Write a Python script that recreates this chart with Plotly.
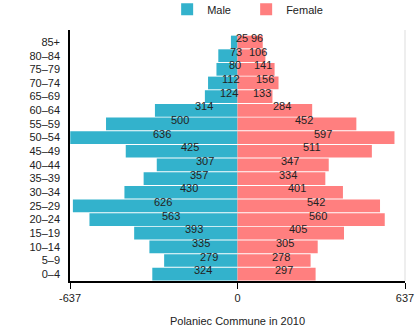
import plotly.graph_objects as go

age_groups = ["0–4", "5–9", "10–14", "15–19", "20–24", "25–29", "30–34", "35–39",
              "40–44", "45–49", "50–54", "55–59", "60–64", "65–69", "70–74",
              "75–79", "80–84", "85+"]
male = [324, 279, 335, 393, 563, 626, 430, 357, 307, 425, 636, 500, 314, 124, 112, 80, 73, 25]
female = [297, 278, 305, 405, 560, 542, 401, 334, 347, 511, 597, 452, 284, 133, 156, 141, 106, 96]
axis_max = 637
tick_vals = [-axis_max, 0, axis_max]
tick_text = ["-637", "0", "637"]

MALE_COLOR = "#33b2cc"
FEMALE_COLOR = "#ff7f7f"
FONT = "Liberation Sans, Arial, sans-serif"

fig = go.Figure()
fig.add_trace(go.Bar(
    y=age_groups, x=[-v for v in male], orientation="h", name="Male",
    marker=dict(color=MALE_COLOR, line=dict(width=0)), hoverinfo="skip"))
fig.add_trace(go.Bar(
    y=age_groups, x=female, orientation="h", name="Female",
    marker=dict(color=FEMALE_COLOR, line=dict(width=0)), hoverinfo="skip"))

# value labels near the middle of each bar
for g, m, f in zip(age_groups, male, female):
    fig.add_annotation(x=-m / 2, y=g, text=str(m), showarrow=False, xshift=8, yshift=4,
                       font=dict(family=FONT, size=11, color="#222"))
    fig.add_annotation(x=f / 2, y=g, text=str(f), showarrow=False, xshift=7, yshift=4,
                       font=dict(family=FONT, size=11, color="#222"))

# light frame line on the right edge of the plot area
fig.add_shape(type="line", xref="paper", yref="paper", x0=1, x1=1, y0=0, y1=1,
              line=dict(color="#dddddd", width=1))

fig.update_layout(
    width=420, height=331,
    margin=dict(l=70, r=15, t=30, b=50, autoexpand=False),
    barmode="overlay", bargap=0.07,
    paper_bgcolor="white", plot_bgcolor="white",
    font=dict(family=FONT, size=11, color="#222"),
    showlegend=True,
    legend=dict(orientation="h", x=0.29, xanchor="left", y=0.972, yref="container",
                yanchor="middle", font=dict(size=11), itemwidth=30, traceorder="normal",
                entrywidth=34, entrywidthmode="pixels",
                bgcolor="rgba(0,0,0,0)"),
    xaxis=dict(range=[-axis_max, axis_max], tickvals=tick_vals, ticktext=tick_text,
               showgrid=False, zeroline=False, showline=True, linecolor="black",
               linewidth=1.5, ticks="outside", ticklen=6, tickcolor="black",
               title=dict(text="Polaniec Commune in 2010", font=dict(size=11), standoff=14),
               automargin=False, fixedrange=True),
    yaxis=dict(categoryorder="array", categoryarray=age_groups, tickmode="array",
               tickvals=age_groups, showgrid=False, automargin=False,
               zeroline=False, showline=True, linecolor="black", linewidth=1.5,
               ticks="", ticklabelstandoff=6, fixedrange=True),
)

fig.write_html("out.html")
